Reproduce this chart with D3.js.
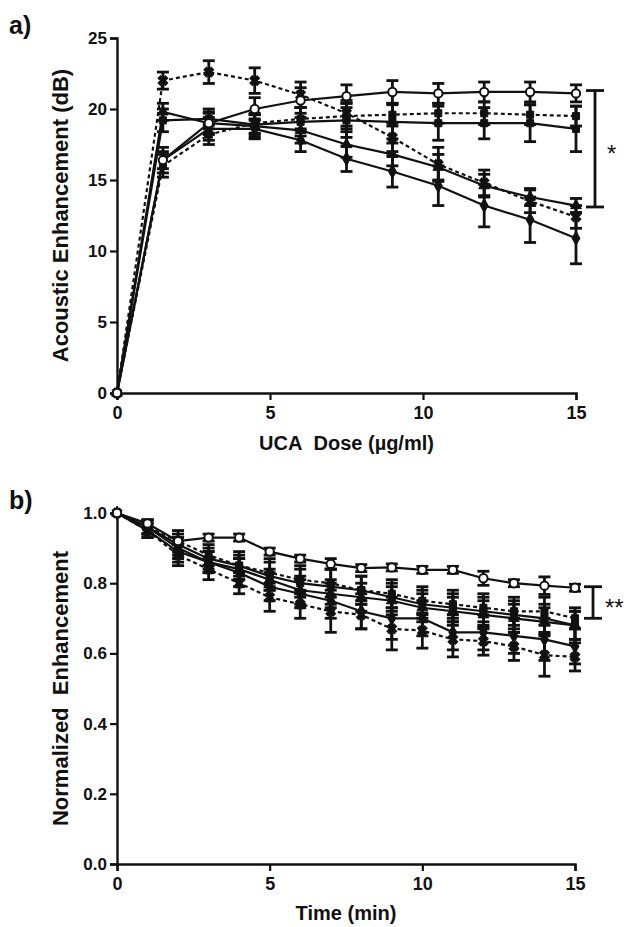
<!DOCTYPE html>
<html>
<head>
<meta charset="utf-8">
<script src="https://cdn.jsdelivr.net/npm/d3@7"></script>
<style>
  html, body { margin: 0; padding: 0; background: #fff; }
  svg text { font-family: 'Liberation Sans', Arial, sans-serif; font-weight: bold; fill: #111; }
</style>
</head>
<body>
<div id="chart"></div>
<script>
// ---- panel a: enhancement vs UCA dose ----
const doseX = [0, 1.5, 3, 4.5, 6, 7.5, 9, 10.5, 12, 13.5, 15];
const doseTicks = [0, 5, 10, 15];
const dbTicks = [0, 5, 10, 15, 20, 25];

const aCircle = [0, 16.4, 19.0, 20.0, 20.6, 20.9, 21.2, 21.1, 21.2, 21.2, 21.1];
const aCircleErr = [0, 0.6, 0.7, 0.8, 0.9, 0.8, 0.8, 0.7, 0.7, 0.7, 0.6];
const aDashHigh = [0, 22.0, 22.6, 22.0, 21.0, 19.7, 18.0, 16.1, 14.8, 13.5, 12.4];
const aDashHighErr = [0, 0.6, 0.8, 0.9, 0.9, 0.9, 1.0, 1.2, 0.9, 0.8, 0.8];
const aDashLow = [0, 16.0, 18.2, 19.0, 19.3, 19.5, 19.6, 19.7, 19.7, 19.6, 19.5];
const aDashLowErr = [0, 0.8, 0.7, 0.7, 0.8, 0.9, 0.8, 0.7, 0.8, 0.7, 0.7];
const aSolidFlat = [0, 19.2, 19.3, 18.9, 19.1, 19.2, 19.1, 19.0, 19.0, 19.0, 18.6];
const aSolidFlatErr = [0, 0.8, 0.7, 0.7, 1.0, 1.2, 1.2, 1.2, 1.1, 1.3, 1.6];
const aSolidMid = [0, 19.8, 19.0, 18.8, 18.5, 17.5, 16.8, 15.9, 14.6, 13.8, 13.2];
const aSolidMidErr = [0, 0.6, 0.8, 0.8, 0.9, 0.9, 0.8, 0.9, 0.8, 0.6, 0.5];
const aSolidLow = [0, 16.4, 18.6, 18.6, 17.8, 16.5, 15.6, 14.6, 13.2, 12.2, 10.9];
const aSolidLowErr = [0, 0.9, 0.8, 0.7, 0.8, 0.9, 1.1, 1.4, 1.5, 1.6, 1.8];
const aBracket = [13.1, 21.3];

// ---- panel b: normalized enhancement vs time ----
const timeX = [0, 1, 2, 3, 4, 5, 6, 7, 8, 9, 10, 11, 12, 13, 14, 15];
const timeTicks = [0, 5, 10, 15];
const normTicks = [0, 0.2, 0.4, 0.6, 0.8, 1.0];

const bCircle = [1.0, 0.97, 0.92, 0.93, 0.93, 0.89, 0.87, 0.855, 0.843, 0.845, 0.838, 0.838, 0.814, 0.80, 0.793, 0.787];
const bCircleErr = [0, 0.01, 0.01, 0.01, 0.01, 0.01, 0.01, 0.015, 0.01, 0.01, 0.01, 0.01, 0.02, 0.01, 0.025, 0.01];
const bDashUp = [1.0, 0.96, 0.92, 0.88, 0.85, 0.83, 0.81, 0.80, 0.78, 0.77, 0.75, 0.74, 0.73, 0.72, 0.72, 0.70];
const bDashUpErr = [0, 0.02, 0.03, 0.03, 0.03, 0.04, 0.04, 0.04, 0.04, 0.04, 0.04, 0.04, 0.04, 0.04, 0.04, 0.03];
const bSolidA = [1.0, 0.96, 0.91, 0.87, 0.85, 0.82, 0.80, 0.79, 0.78, 0.76, 0.74, 0.73, 0.72, 0.71, 0.70, 0.68];
const bSolidAErr = [0, 0.02, 0.03, 0.03, 0.04, 0.04, 0.04, 0.05, 0.04, 0.04, 0.04, 0.04, 0.04, 0.04, 0.04, 0.04];
const bSolidB = [1.0, 0.96, 0.90, 0.86, 0.84, 0.81, 0.78, 0.77, 0.76, 0.75, 0.73, 0.72, 0.71, 0.70, 0.69, 0.68];
const bSolidBErr = [0, 0.02, 0.03, 0.03, 0.03, 0.03, 0.04, 0.04, 0.04, 0.04, 0.04, 0.04, 0.04, 0.04, 0.04, 0.04];
const bSolidLow = [1.0, 0.95, 0.89, 0.86, 0.83, 0.79, 0.77, 0.75, 0.72, 0.70, 0.70, 0.66, 0.66, 0.65, 0.64, 0.62];
const bSolidLowErr = [0, 0.02, 0.03, 0.03, 0.04, 0.04, 0.04, 0.05, 0.05, 0.06, 0.05, 0.05, 0.05, 0.05, 0.06, 0.05];
const bDashLow = [1.0, 0.95, 0.88, 0.84, 0.80, 0.76, 0.74, 0.72, 0.71, 0.67, 0.665, 0.64, 0.635, 0.62, 0.595, 0.59];
const bDashLowErr = [0, 0.02, 0.03, 0.03, 0.03, 0.04, 0.04, 0.06, 0.04, 0.06, 0.05, 0.05, 0.04, 0.04, 0.06, 0.04];
const bBracket = [0.70, 0.79];

const W = 631;
const H = 927;

const svg = d3.select('#chart')
  .append('svg')
  .attr('width', W)
  .attr('height', H);

const combine = (ys, errs) => ys.map((y, i) => ({ y, e: errs[i] }));

function drawPanel(cfg) {
  const x = d3.scaleLinear().domain(cfg.xDomain).range([cfg.left, cfg.left + cfg.width]);
  const y = d3.scaleLinear().domain(cfg.yDomain).range([cfg.top + cfg.height, cfg.top]);
  const g = svg.append('g').attr('class', 'panel');

  // axes
  g.append('g')
    .attr('transform', `translate(0,${cfg.top + cfg.height})`)
    .call(d3.axisBottom(x).tickValues(cfg.xTicks).tickSize(7).tickPadding(6).tickFormat(d3.format('d')))
    .call((a) => a.select('.domain').attr('stroke-width', 2.4))
    .call((a) => a.selectAll('.tick line').attr('stroke-width', 2.2))
    .call((a) => a.selectAll('.tick text').style('font-size', '18px'));

  g.append('g')
    .attr('transform', `translate(${cfg.left},0)`)
    .call(d3.axisLeft(y).tickValues(cfg.yTicks).tickSize(7).tickPadding(3).tickFormat(cfg.yFormat))
    .call((a) => a.select('.domain').attr('stroke-width', 2.4))
    .call((a) => a.selectAll('.tick line').attr('stroke-width', 2.2))
    .call((a) => a.selectAll('.tick text').style('font-size', '17px'));

  g.selectAll('.domain, .tick line').attr('stroke', '#111');

  // titles
  g.append('text')
    .attr('x', x((cfg.xDomain[0] + cfg.xDomain[1]) / 2))
    .attr('y', cfg.top + cfg.height + cfg.xTitleDy)
    .attr('text-anchor', 'middle')
    .style('font-size', '20px')
    .text(cfg.xTitle);

  g.append('text')
    .attr('transform', `translate(${cfg.yTitleX},${cfg.top + cfg.height / 2}) rotate(-90)`)
    .attr('text-anchor', 'middle')
    .style('font-size', '22px')
    .text(cfg.yTitle);

  g.append('text')
    .attr('x', 9)
    .attr('y', cfg.top - 4)
    .style('font-size', '25px')
    .text(cfg.label);

  const line = d3.line().x((d, i) => x(cfg.xs[i])).y((d) => y(d.y));

  cfg.series.forEach((s) => {
    const pts = combine(s.ys, s.errs);
    const sg = g.append('g').attr('class', 'series');

    sg.append('path')
      .datum(pts)
      .attr('d', line)
      .attr('fill', 'none')
      .attr('stroke', '#111')
      .attr('stroke-width', 2.2)
      .attr('stroke-dasharray', s.dashed ? '4,3' : null);

    const bars = sg.selectAll('g.err')
      .data(pts.filter((d) => d.e > 0))
      .join('g')
      .attr('class', 'err');
    const xi = (d) => x(cfg.xs[pts.indexOf(d)]);
    bars.append('line')
      .attr('x1', xi).attr('x2', xi)
      .attr('y1', (d) => y(d.y - d.e)).attr('y2', (d) => y(d.y + d.e));
    bars.append('line')
      .attr('x1', (d) => xi(d) - 6).attr('x2', (d) => xi(d) + 6)
      .attr('y1', (d) => y(d.y + d.e)).attr('y2', (d) => y(d.y + d.e));
    bars.append('line')
      .attr('x1', (d) => xi(d) - 6).attr('x2', (d) => xi(d) + 6)
      .attr('y1', (d) => y(d.y - d.e)).attr('y2', (d) => y(d.y - d.e));
    bars.selectAll('line').attr('stroke', '#111').attr('stroke-width', 2.8);

    const sym = d3.symbol().type(s.symbol).size(s.size || 60);
    sg.selectAll('path.mk')
      .data(pts)
      .join('path')
      .attr('class', 'mk')
      .attr('transform', (d, i) => `translate(${x(cfg.xs[i])},${y(d.y)})${s.rotate ? ' rotate(45)' : ''}`)
      .attr('d', sym)
      .attr('fill', s.open ? '#fff' : '#111')
      .attr('stroke', '#111')
      .attr('stroke-width', s.open ? 2 : 1);
  });

  // significance bracket
  const bx = cfg.bracketX;
  const br = g.append('g').attr('class', 'bracket');
  br.append('line').attr('x1', bx).attr('x2', bx).attr('y1', y(cfg.bracket[0])).attr('y2', y(cfg.bracket[1]));
  br.append('line').attr('x1', bx - 9).attr('x2', bx + 9).attr('y1', y(cfg.bracket[1])).attr('y2', y(cfg.bracket[1]));
  br.append('line').attr('x1', bx - 9).attr('x2', bx + 9).attr('y1', y(cfg.bracket[0])).attr('y2', y(cfg.bracket[0]));
  br.selectAll('line').attr('stroke', '#111').attr('stroke-width', 2.8);
  br.append('text')
    .attr('x', bx + 12)
    .attr('y', y((cfg.bracket[0] + cfg.bracket[1]) / 2) + 13)
    .style('font-size', '24px')
    .style('font-weight', 'normal')
    .text(cfg.star);
}

drawPanel({
  label: 'a)',
  left: 117, top: 38, width: 459, height: 355,
  xDomain: [0, 15], yDomain: [0, 25],
  xTicks: doseTicks, yTicks: dbTicks, yFormat: d3.format('d'),
  xTitle: 'UCA\u00a0 Dose (\u00b5g/ml)', xTitleDy: 57,
  yTitle: 'Acoustic Enhancement (dB)', yTitleX: 68,
  xs: doseX,
  series: [
    { ys: aSolidLow, errs: aSolidLowErr, symbol: d3.symbolDiamond, size: 55 },
    { ys: aSolidMid, errs: aSolidMidErr, symbol: d3.symbolTriangle, size: 50 },
    { ys: aSolidFlat, errs: aSolidFlatErr, symbol: d3.symbolSquare, size: 50 },
    { ys: aDashLow, errs: aDashLowErr, symbol: d3.symbolSquare, size: 50, dashed: true },
    { ys: aDashHigh, errs: aDashHighErr, symbol: d3.symbolCross, size: 60, dashed: true, rotate: true },
    { ys: aCircle, errs: aCircleErr, symbol: d3.symbolCircle, size: 55, open: true },
  ],
  bracket: aBracket, bracketX: 595, star: '*',
});

drawPanel({
  label: 'b)',
  left: 117, top: 513, width: 458, height: 351,
  xDomain: [0, 15], yDomain: [0, 1],
  xTicks: timeTicks, yTicks: normTicks, yFormat: d3.format('.1f'),
  xTitle: 'Time (min)', xTitleDy: 56,
  yTitle: 'Normalized\u00a0 Enhancement', yTitleX: 68,
  xs: timeX,
  series: [
    { ys: bDashLow, errs: bDashLowErr, symbol: d3.symbolCross, size: 60, dashed: true, rotate: true },
    { ys: bSolidLow, errs: bSolidLowErr, symbol: d3.symbolDiamond, size: 55 },
    { ys: bSolidB, errs: bSolidBErr, symbol: d3.symbolTriangle, size: 50 },
    { ys: bSolidA, errs: bSolidAErr, symbol: d3.symbolSquare, size: 50 },
    { ys: bDashUp, errs: bDashUpErr, symbol: d3.symbolSquare, size: 50, dashed: true },
    { ys: bCircle, errs: bCircleErr, symbol: d3.symbolCircle, size: 55, open: true },
  ],
  bracket: bBracket, bracketX: 593, star: '**',
});
</script>
</body>
</html>
